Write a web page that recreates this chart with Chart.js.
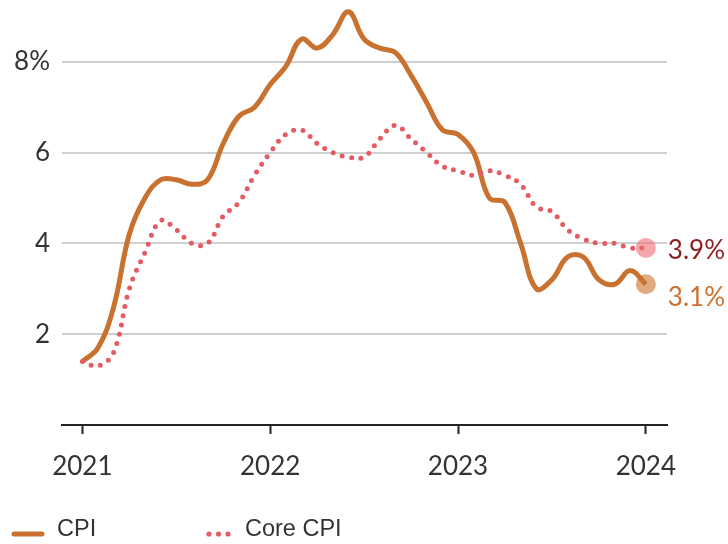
<!DOCTYPE html>
<html>
<head>
<meta charset="utf-8">
<script src="https://cdn.jsdelivr.net/npm/chart.js@4.4.1/dist/chart.umd.min.js"></script>
<style>
  html, body { margin: 0; padding: 0; background: #fff; }
  #wrap { width: 728px; height: 544px; position: relative; }
</style>
</head>
<body>
<div id="wrap"><canvas id="myChart" width="728" height="544"></canvas></div>
<script>
// monthly, Jan 2021 .. Jan 2024 (year-over-year %)
var months = [];
for (var i = 0; i <= 36; i++) months.push(i);

var cpi = [
  1.4, 1.7, 2.6, 4.2, 5.0, 5.4, 5.4, 5.3, 5.4, 6.2, 6.8, 7.0,
  7.5, 7.9, 8.5, 8.3, 8.6, 9.1, 8.5, 8.3, 8.2, 7.7, 7.1, 6.5,
  6.4, 6.0, 5.0, 4.9, 4.0, 3.0, 3.2, 3.7, 3.7, 3.2, 3.1, 3.4,
  3.1
];
var coreCpi = [
  1.4, 1.3, 1.6, 3.0, 3.8, 4.5, 4.3, 4.0, 4.0, 4.6, 4.9, 5.5,
  6.0, 6.4, 6.5, 6.2, 6.0, 5.9, 5.9, 6.3, 6.6, 6.3, 6.0, 5.7,
  5.6, 5.5, 5.6, 5.5, 5.3, 4.8, 4.7, 4.3, 4.1, 4.0, 4.0, 3.9,
  3.9
];
var yearTicks = [0, 12, 24, 36];
var yearLabels = ["2021", "2022", "2023", "2024"];
var yTicks = [2, 4, 6, 8];

var cpiColor = "#c9712f";
var coreColor = "#e35b63";
var tickFont = "Lato, 'Open Sans', sans-serif";

function toPoints(values) {
  return values.map(function (v, i) { return { x: months[i], y: v }; });
}

function lastOnly(n, big, small) {
  var arr = [];
  for (var i = 0; i < n; i++) arr.push(i === n - 1 ? big : small);
  return arr;
}

// end-of-line value labels
var endLabels = {
  id: "endLabels",
  afterDatasetsDraw: function (chart) {
    var ctx = chart.ctx;
    var specs = [
      { ds: 1, text: "3.9%", color: "#8f1c1c", dy: 3 },
      { ds: 0, text: "3.1%", color: "#c9712f", dy: 13 }
    ];
    ctx.save();
    ctx.font = "26px " + tickFont;
    ctx.textBaseline = "middle";
    ctx.textAlign = "left";
    specs.forEach(function (s) {
      var meta = chart.getDatasetMeta(s.ds);
      var pt = meta.data[meta.data.length - 1];
      ctx.fillStyle = s.color;
      ctx.fillText(s.text, pt.x + 22, pt.y + s.dy);
    });
    ctx.restore();
  }
};

// legend drawn under the axis
var bottomLegend = {
  id: "bottomLegend",
  afterDraw: function (chart) {
    var ctx = chart.ctx;
    var y = 534;
    ctx.save();
    ctx.strokeStyle = cpiColor;
    ctx.lineWidth = 5;
    ctx.lineCap = "round";
    ctx.beginPath();
    ctx.moveTo(14, y);
    ctx.lineTo(42, y);
    ctx.stroke();

    ctx.fillStyle = coreColor;
    [209, 218.5, 228].forEach(function (x) {
      ctx.beginPath();
      ctx.arc(x, y, 2.6, 0, Math.PI * 2);
      ctx.fill();
    });

    ctx.fillStyle = "#333";
    ctx.font = "23.5px 'Liberation Sans', Arial, sans-serif";
    ctx.textBaseline = "middle";
    ctx.fillText("CPI", 57, 530);
    ctx.fillText("Core CPI", 245, 530);
    ctx.restore();
  }
};

var chartContext = document.getElementById("myChart").getContext("2d");

var chart = new Chart(chartContext, {
  type: "line",
  data: {
    datasets: [
      {
        label: "CPI",
        data: toPoints(cpi),
        borderColor: cpiColor,
        borderWidth: 5,
        tension: 0.4,
        pointRadius: lastOnly(cpi.length, 10, 0),
        pointBackgroundColor: "rgba(201,113,47,0.6)",
        pointBorderWidth: 0,
        clip: false,
        order: 2
      },
      {
        label: "Core CPI",
        data: toPoints(coreCpi),
        borderColor: coreColor,
        borderWidth: 5,
        borderDash: [0, 9.5],
        borderCapStyle: "round",
        tension: 0.4,
        pointRadius: lastOnly(coreCpi.length, 10, 0),
        pointBackgroundColor: "rgba(236,110,120,0.6)",
        pointBorderWidth: 0,
        clip: false,
        order: 1
      }
    ]
  },
  options: {
    responsive: false,
    animation: false,
    layout: { padding: { top: 0, right: 61, left: 0, bottom: 0 } },
    plugins: {
      legend: { display: false },
      tooltip: { enabled: false }
    },
    scales: {
      x: {
        type: "linear",
        min: -1.3,
        max: 37.35,
        afterBuildTicks: function (axis) {
          axis.ticks = yearTicks.map(function (v) { return { value: v }; });
        },
        afterFit: function (axis) {
          axis.height = 119;
          axis.paddingLeft = 0;
          axis.paddingRight = 0;
        },
        ticks: {
          color: "#333",
          font: { family: tickFont, size: 26 },
          padding: 17,
          maxRotation: 0,
          callback: function (value) {
            var idx = yearTicks.indexOf(value);
            return idx >= 0 ? yearLabels[idx] : null;
          }
        },
        grid: {
          drawOnChartArea: false,
          drawTicks: true,
          tickLength: 9,
          tickColor: "#222",
          tickWidth: 2
        },
        border: { display: true, color: "#222", width: 2 }
      },
      y: {
        min: 0,
        max: 9.14,
        afterBuildTicks: function (axis) {
          axis.ticks = yTicks.map(function (v) { return { value: v }; });
        },
        afterFit: function (axis) {
          axis.width = 62;
          axis.paddingTop = 0;
          axis.paddingBottom = 0;
        },
        ticks: {
          color: "#333",
          font: { family: tickFont, size: 26 },
          padding: 12,
          callback: function (value) {
            return value === 8 ? "8%" : String(value);
          }
        },
        grid: {
          color: "#cfcfcf",
          lineWidth: 2,
          drawTicks: false
        },
        border: { display: false }
      }
    }
  },
  plugins: [endLabels, bottomLegend]
});
</script>
</body>
</html>
